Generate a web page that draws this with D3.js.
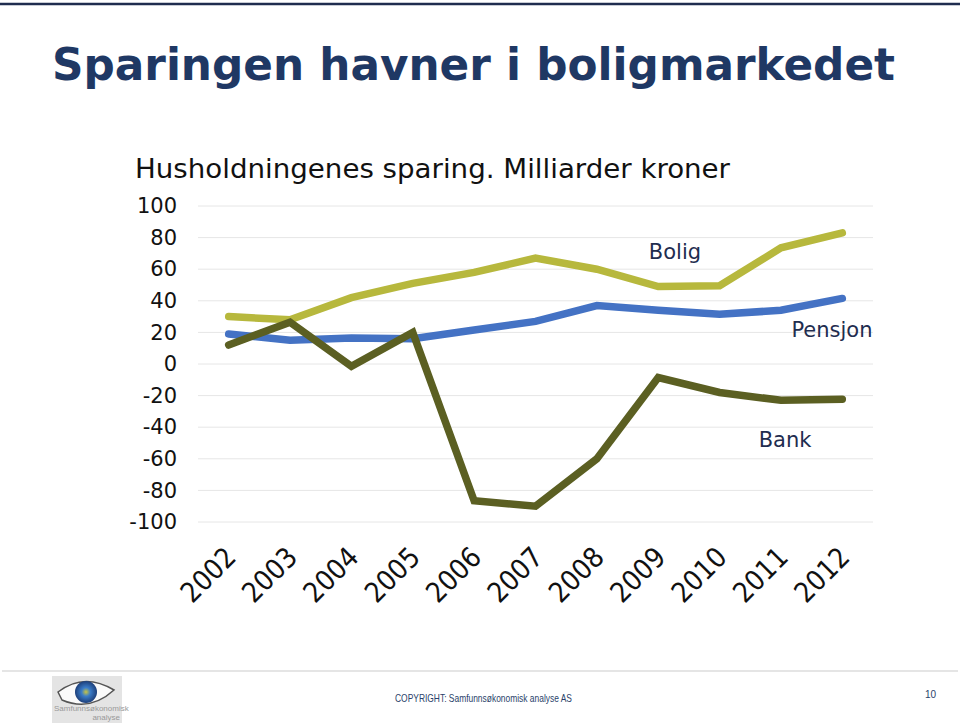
<!DOCTYPE html>
<html><head><meta charset="utf-8">
<script src="https://cdn.jsdelivr.net/npm/d3@7"></script>
<style>body{margin:0;background:#fff}svg{display:block}</style>
</head><body>
<script>
const years = ["2002","2003","2004","2005","2006","2007","2008","2009","2010","2011","2012"];
const bolig = [30, 28, 42, 51, 58, 67, 60, 49, 49.5, 73.5, 83];
const pensjon = [19, 15, 16.4, 16, 21.5, 27, 37, 34, 31.5, 34, 41.5];
const bank = [12, 26.5, -1.5, 20, -86.5, -90, -60, -8.6, -18, -23, -22.3];
const yTicks = [100, 80, 60, 40, 20, 0, -20, -40, -60, -80, -100];

const W = 960, H = 724;
const svg = d3.select("body").append("svg").attr("width", W).attr("height", H);

svg.append("line").attr("x1",0).attr("x2",W).attr("y1",4).attr("y2",4).attr("stroke","#1f2d4f").attr("stroke-width",2.5);

svg.append("text").attr("x",52).attr("y",80)
  .attr("font-family","DejaVu Sans").attr("font-weight","bold").attr("font-size",44)
  .attr("fill","#1f3864").attr("textLength",843).attr("lengthAdjust","spacingAndGlyphs")
  .text("Sparingen havner i boligmarkedet");

svg.append("text").attr("x",135).attr("y",178)
  .attr("font-family","DejaVu Sans Condensed, DejaVu Sans").attr("font-size",26)
  .attr("fill","#111").attr("textLength",595).attr("lengthAdjust","spacingAndGlyphs")
  .text("Husholdningenes sparing. Milliarder kroner");

const x = d3.scaleBand().domain(years).range([198, 873]);
const y = d3.scaleLinear().domain([-100, 100]).range([522, 206]);

const grid = svg.append("g");
grid.selectAll("line").data(yTicks).join("line")
  .attr("x1",198).attr("x2",873).attr("y1",d=>y(d)).attr("y2",d=>y(d))
  .attr("stroke","#e6e6e6").attr("stroke-width",1);

const yAxis = svg.append("g").attr("transform","translate(198,0)")
  .call(d3.axisLeft(y).tickValues(yTicks).tickSize(0).tickPadding(21).tickFormat(d => String(d)));
yAxis.select(".domain").remove();
yAxis.selectAll("text").attr("font-family","DejaVu Sans").attr("font-size",21).attr("fill","#111");

const xAxis = svg.append("g").attr("transform","translate(0,540)")
  .call(d3.axisBottom(x).tickSize(0));
xAxis.select(".domain").remove();
xAxis.selectAll("text")
  .attr("font-family","DejaVu Sans Condensed, DejaVu Sans").attr("font-size",28).attr("fill","#111")
  .attr("text-anchor","end").attr("dy",0).attr("y",0)
  .attr("transform","translate(9,19) rotate(-45)");

const line = d3.line().x((d,i)=>x(years[i]) + x.bandwidth()/2).y(d=>y(d));
const series = [
  {vals: pensjon, color:"#4472c4"},
  {vals: bolig, color:"#b7b83d"},
  {vals: bank, color:"#5b5f22"}
];
svg.selectAll("path.s").data(series).join("path").attr("class","s")
  .attr("d",d=>line(d.vals)).attr("fill","none").attr("stroke",d=>d.color)
  .attr("stroke-width",7.5).attr("stroke-linejoin","miter").attr("stroke-linecap","round");

const labels = [
  {t:"Bolig", x:675, y:259},
  {t:"Pensjon", x:832, y:337},
  {t:"Bank", x:785, y:447}
];
svg.selectAll("text.lab").data(labels).join("text").attr("class","lab")
  .attr("x",d=>d.x).attr("y",d=>d.y).attr("text-anchor","middle")
  .attr("font-family","DejaVu Sans").attr("font-size",21).attr("fill","#1f2d4f").text(d=>d.t);

// footer
svg.append("line").attr("x1",2).attr("x2",958).attr("y1",671).attr("y2",671).attr("stroke","#dcdcdc").attr("stroke-width",1.5);
const defs = svg.append("defs");
const rg = defs.append("radialGradient").attr("id","eye");
rg.append("stop").attr("offset","0%").attr("stop-color","#c9c640");
rg.append("stop").attr("offset","40%").attr("stop-color","#3a7cc8");
rg.append("stop").attr("offset","100%").attr("stop-color","#1d3f7a");
svg.append("rect").attr("x",52).attr("y",676).attr("width",70).attr("height",47).attr("fill","#e4e4e4");
svg.append("path").attr("d","M58,692 Q84,672 114,690 Q90,712 62,700 Z").attr("fill","#fafafa").attr("stroke","#555").attr("stroke-width",1.5);
svg.append("circle").attr("cx",86).attr("cy",692).attr("r",11).attr("fill","url(#eye)");
svg.append("text").attr("x",54).attr("y",711).attr("font-family","Liberation Sans").attr("font-size",8).attr("fill","#999").text("Samfunnsøkonomisk");
svg.append("text").attr("x",120).attr("y",720).attr("text-anchor","end").attr("font-family","Liberation Sans").attr("font-size",8).attr("fill","#999").text("analyse");

svg.append("text").attr("x",395).attr("y",702).attr("font-family","Liberation Sans Narrow, Liberation Sans").attr("font-size",11)
  .attr("fill","#2a3f6a").attr("textLength",177).attr("lengthAdjust","spacingAndGlyphs").text("COPYRIGHT: Samfunnsøkonomisk analyse AS");
svg.append("text").attr("x",936).attr("y",698).attr("text-anchor","end").attr("font-family","Liberation Sans").attr("font-size",10)
  .attr("fill","#2a3f6a").text("10");
</script>
</body></html>
